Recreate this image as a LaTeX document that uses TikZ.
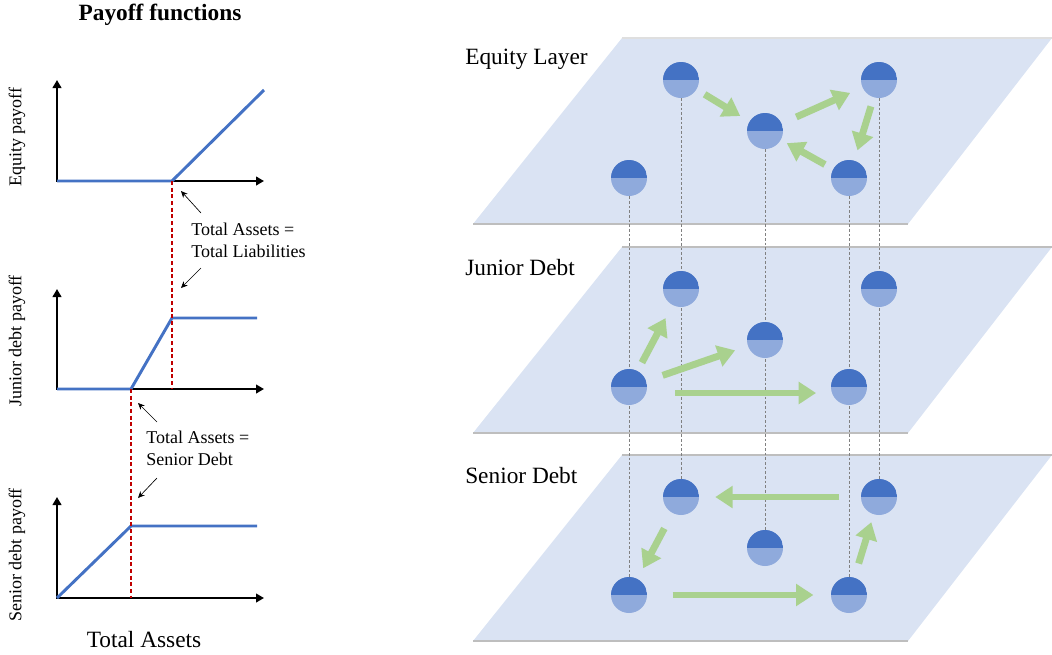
\documentclass[tikz,border=0pt]{standalone}
\usepackage{fontspec}
\setmainfont{Liberation Serif}
\usetikzlibrary{arrows.meta}
\definecolor{topclr}{RGB}{68,114,196}
\definecolor{botclr}{RGB}{143,170,220}
\definecolor{planeclr}{RGB}{218,227,243}
\definecolor{rimclr}{RGB}{190,190,190}
\definecolor{flowclr}{RGB}{169,209,142}
\definecolor{payclr}{RGB}{68,114,196}
\definecolor{cutclr}{RGB}{192,0,0}
\pgfdeclarelayer{planes}
\pgfdeclarelayer{links}
\pgfsetlayers{planes,links,main}
\tikzset{
  bank/.style={circle,minimum size=27pt,inner sep=0pt,fill=botclr,
               path picture={\fill[topclr] (path picture bounding box.west)
                 rectangle (path picture bounding box.north east);}},
  plane/.style={fill=planeclr},
  rim/.style={draw=rimclr,line width=0.8pt},
  vlink/.style={draw=gray,line width=0.5pt,dash pattern=on 2pt off 1.5pt},
  flow/.style={-{Triangle[length=13pt,width=16pt]},draw=flowclr,line width=5.2pt,
               shorten <=7pt,shorten >=8pt},
  axis/.style={{Triangle[length=6pt,width=6.5pt]}-{Triangle[length=6pt,width=6.5pt]},
               line width=2.2pt,line join=miter},
  pay/.style={draw=payclr,line width=2.2pt},
  cutline/.style={draw=cutclr,line width=0.8pt,dash pattern=on 3pt off 2pt},
  note/.style={-{Stealth[length=5pt,width=4.5pt]},line width=0.5pt},
  lbl/.style={font=\fontsize{13.5}{16.5}\selectfont,align=left,inner sep=0pt},
  ylbl/.style={rotate=90,font=\fontsize{13.5}{16}\selectfont,inner sep=0pt},
  layer/.style={font=\fontsize{17.5}{20}\selectfont,anchor=west,inner sep=0pt},
}

\begin{document}
\begin{tikzpicture}[x=0.75pt, y=-0.75pt]
\useasboundingbox (0,0) rectangle (1052,654);

% ── payoff panels
\node[font=\fontsize{17.5}{20}\selectfont\bfseries] (title) at (160,15) {Payoff functions};

% equity
\draw[axis] (57,80) -- (57,181) -- (264,181);
\coordinate (kE) at (172,181);
\draw[pay] (57,181) -- (kE) -- (264,90);
\node[ylbl] (yE) at (17,137) {Equity payoff};

% junior debt
\draw[axis] (57,289) -- (57,389) -- (264,389);
\coordinate (kJ) at (131,389);
\coordinate (tJ) at (172,318);
\draw[pay] (57,389) -- (kJ) -- (tJ) -- (257,318);
\node[ylbl] (yJ) at (17,341) {Junior debt payoff};

% senior debt
\draw[axis] (57,497) -- (57,598) -- (264,598);
\coordinate (kS) at (131,526);
\coordinate (bS) at (131,598);
\draw[pay] (57,598) -- (kS) -- (257,526);
\node[ylbl] (yS) at (17,555) {Senior debt payoff};

\node[font=\fontsize{17.5}{20}\selectfont] (xlab) at (144,640) {Total Assets};

% break points
\draw[cutline] (kE) -- (172,389);
\draw[cutline] (kJ) -- (bS);

\node[lbl,anchor=west] (tl) at (191,240) {Total Assets =\\Total Liabilities};
\coordinate (tl1) at (201,213);
\coordinate (tl2) at (181,191);
\coordinate (tl3) at (201,268);
\coordinate (tl4) at (181,288);
\draw[note] (tl1) -- (tl2);
\draw[note] (tl3) -- (tl4);

\node[lbl,anchor=west] (sd) at (146,448) {Total Assets =\\Senior Debt};
\coordinate (sd1) at (157,422);
\coordinate (sd2) at (138,403);
\coordinate (sd3) at (157,478);
\coordinate (sd4) at (138,498);
\draw[note] (sd1) -- (sd2);
\draw[note] (sd3) -- (sd4);

% ── layers
\begin{scope}[shift={(0,0)}]
\begin{pgfonlayer}{planes}
\fill[plane] (622,38) -- (1052,38) -- (908,224) -- (473,224) -- cycle;
\draw[rim,draw=rimclr!50] (622,38) -- (1052,38);
\draw[rim] (473,224) -- (908,224);
\end{pgfonlayer}
\node[layer] (lE) at (465,59) {Equity Layer};
\node[bank] (e1) at (681,80) {};
\node[bank] (e2) at (765,131) {};
\node[bank] (e3) at (879,80) {};
\node[bank] (e4) at (849,178) {};
\node[bank] (e5) at (629,178) {};
\end{scope}

\begin{scope}[shift={(0,209)}]
\begin{pgfonlayer}{planes}
\fill[plane] (622,38) -- (1052,38) -- (908,224) -- (473,224) -- cycle;
\draw[rim] (622,38) -- (1052,38) (473,224) -- (908,224);
\end{pgfonlayer}
\node[layer] (lJ) at (465,59) {Junior Debt};
\node[bank] (j1) at (681,80) {};
\node[bank] (j2) at (765,131) {};
\node[bank] (j3) at (879,80) {};
\node[bank] (j4) at (849,178) {};
\node[bank] (j5) at (629,178) {};
\end{scope}

\begin{scope}[shift={(0,417)}]
\begin{pgfonlayer}{planes}
\fill[plane] (622,38) -- (1052,38) -- (908,224) -- (473,224) -- cycle;
\draw[rim] (622,38) -- (1052,38) (473,224) -- (908,224);
\end{pgfonlayer}
\node[layer] (lS) at (465,59) {Senior Debt};
\node[bank] (s1) at (681,80) {};
\node[bank] (s2) at (765,131) {};
\node[bank] (s3) at (879,80) {};
\node[bank] (s4) at (849,178) {};
\node[bank] (s5) at (629,178) {};
\end{scope}

% same bank on every layer
\begin{pgfonlayer}{links}
\draw[vlink] (e1) -- (s1);
\draw[vlink] (e2) -- (s2);
\draw[vlink] (e3) -- (s3);
\draw[vlink] (e4) -- (s4);
\draw[vlink] (e5) -- (s5);
\end{pgfonlayer}

% exposures
\draw[flow] (e1) -- (e2);
\draw[flow,shorten <=12pt,shorten >=10pt] (e2) -- (e3);
\draw[flow] (e3) -- (e4);
\draw[flow,shorten >=5pt] (e4) -- (e2);

\draw[flow,shorten >=11pt] (j5) -- (j1);
\draw[flow,shorten <=13pt,shorten >=10pt] (j5) -- (j2);
\draw[flow,shorten <=21pt,shorten >=11pt,transform canvas={yshift=-4.5pt}] (j5) -- (j4);

\draw[flow,shorten <=16pt,shorten >=12pt] (s3) -- (s1);
\draw[flow,shorten <=13pt,shorten >=9pt] (s1) -- (s5);
\draw[flow,shorten <=19pt,shorten >=13pt] (s5) -- (s4);
\draw[flow,shorten <=11pt,shorten >=6pt] (s4) -- (s3);

\end{tikzpicture}
\end{document}
